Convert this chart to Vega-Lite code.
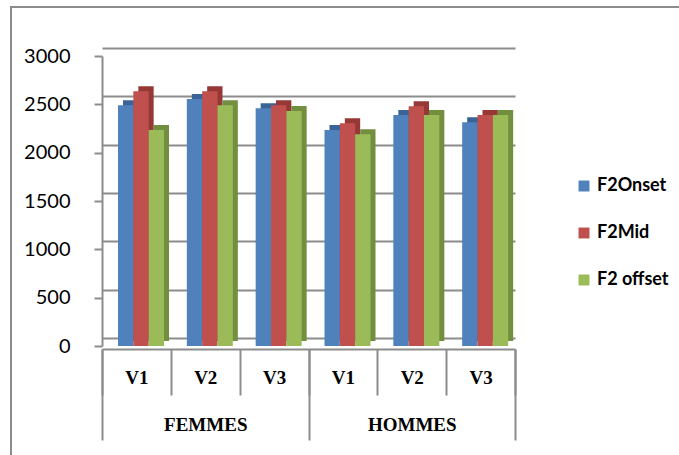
{
  "$schema": "https://vega.github.io/schema/vega-lite/v6.json",
  "width": 669,
  "height": 449,
  "autosize": {"type": "none"},
  "padding": {"left": 11, "top": 7, "right": 0, "bottom": 0},
  "background": "white",
  "config": {
    "view": {"stroke": "#8C8C8C", "strokeWidth": 2},
    "legend": {"labelFont": "Lato", "labelFontSize": 18, "labelFontWeight": "bold", "labelColor": "#000000"}
  },
  "data": {
    "values": [
      {"cat": "FEMMES|V1", "series": "F2Onset", "value": 2490},
      {"cat": "FEMMES|V1", "series": "F2Mid", "value": 2635},
      {"cat": "FEMMES|V1", "series": "F2 offset", "value": 2235},
      {"cat": "FEMMES|V2", "series": "F2Onset", "value": 2555},
      {"cat": "FEMMES|V2", "series": "F2Mid", "value": 2635},
      {"cat": "FEMMES|V2", "series": "F2 offset", "value": 2490},
      {"cat": "FEMMES|V3", "series": "F2Onset", "value": 2460},
      {"cat": "FEMMES|V3", "series": "F2Mid", "value": 2490},
      {"cat": "FEMMES|V3", "series": "F2 offset", "value": 2430},
      {"cat": "HOMMES|V1", "series": "F2Onset", "value": 2235},
      {"cat": "HOMMES|V1", "series": "F2Mid", "value": 2305},
      {"cat": "HOMMES|V1", "series": "F2 offset", "value": 2190},
      {"cat": "HOMMES|V2", "series": "F2Onset", "value": 2390},
      {"cat": "HOMMES|V2", "series": "F2Mid", "value": 2480},
      {"cat": "HOMMES|V2", "series": "F2 offset", "value": 2390},
      {"cat": "HOMMES|V3", "series": "F2Onset", "value": 2315},
      {"cat": "HOMMES|V3", "series": "F2Mid", "value": 2390},
      {"cat": "HOMMES|V3", "series": "F2 offset", "value": 2390}
    ]
  },
  "layer": [
    {
      "mark": {"type": "bar", "opacity": 0},
      "encoding": {
        "x": {"field": "cat", "type": "nominal", "sort": null,
              "scale": {"range": [91, 504], "paddingInner": 0, "paddingOuter": 0},
              "axis": {
                "orient": "bottom", "offset": -107, "title": null, "grid": false,
                "labels": false, "domain": false,
                "tickBand": "extent", "tickSize": 91, "tickColor": "#8C8C8C", "tickWidth": 2,
                "tickOpacity": {"condition": {"test": "datum.value == 'FEMMES|V3' || datum.value == 'HOMMES|V3' || datum.index == -1 || datum.extra", "value": 1}, "value": 0}
              }},
        "y": {"field": "value", "type": "quantitative",
              "scale": {"domain": [0, 3000], "range": [331, 41], "nice": false, "zero": true},
              "axis": {"orient": "left", "offset": -10, "title": null,
                       "values": [0, 500, 1000, 1500, 2000, 2500, 3000],
                       "labels": false, "ticks": false, "domain": false,
                       "grid": true, "gridColor": "#8C8C8C", "gridWidth": 2}}
      }
    },
    {
      "mark": {"type": "bar", "yOffset": -5},
      "encoding": {
        "x": {"field": "cat", "type": "nominal", "sort": null, "axis": null,
              "scale": {"range": [91, 504], "paddingInner": 0, "paddingOuter": 0}},
        "xOffset": {"field": "series", "type": "nominal", "sort": ["F2Onset", "F2Mid", "F2 offset"],
                    "scale": {"range": [21, 67], "paddingInner": 0, "paddingOuter": 0}},
        "y": {"field": "value", "type": "quantitative", "axis": null,
              "scale": {"domain": [0, 3000], "range": [339, 49], "nice": false, "zero": true}},
        "color": {"field": "series", "type": "nominal", "legend": null,
                  "scale": {"domain": ["F2Onset", "F2Mid", "F2 offset"], "range": ["#3A6397", "#953836", "#728E3F"]}}
      }
    },
    {
      "mark": {"type": "bar"},
      "encoding": {
        "x": {"field": "cat", "type": "nominal", "sort": null,
              "scale": {"range": [91, 504], "paddingInner": 0, "paddingOuter": 0},
              "axis": {
                "orient": "bottom", "offset": -107, "title": null, "grid": false,
                "labelAngle": 0, "labelOverlap": false,
                "labelExpr": "split(datum.value, '|')[1] == 'V2' ? [split(datum.value, '|')[1], split(datum.value, '|')[0]] : split(datum.value, '|')[1]",
                "labelFont": "Liberation Serif", "labelFontWeight": "bold", "labelFontSize": 19,
                "labelColor": "#000000", "labelLineHeight": 47, "labelBaseline": "top",
                "labelPadding": -27,
                "tickBand": "extent", "tickSize": 46, "tickColor": "#8C8C8C", "tickWidth": 2,
                "domainColor": "#8C8C8C", "domainWidth": 2
              }},
        "xOffset": {"field": "series", "type": "nominal", "sort": ["F2Onset", "F2Mid", "F2 offset"],
                    "scale": {"range": [16, 62], "paddingInner": 0, "paddingOuter": 0}},
        "y": {"field": "value", "type": "quantitative",
              "scale": {"domain": [0, 3000], "range": [339, 49], "nice": false, "zero": true},
              "axis": {
                "orient": "left", "offset": -91, "title": null, "format": "d",
                "values": [0, 500, 1000, 1500, 2000, 2500, 3000],
                "labelFont": "Lato", "labelFontSize": 20, "labelColor": "#000000",
                "labelPadding": 24, "tickSize": 8, "tickColor": "#8C8C8C", "tickWidth": 2,
                "domainColor": "#8C8C8C", "domainWidth": 2, "grid": false
              }},
        "color": {"field": "series", "type": "nominal",
                  "scale": {"domain": ["F2Onset", "F2Mid", "F2 offset"], "range": ["#4F81BD", "#C0504D", "#9BBB59"]},
                  "legend": {"title": null, "orient": "none", "legendX": 564, "legendY": 170,
                             "symbolType": "square", "symbolSize": 120, "symbolStrokeWidth": 0,
                             "labelOffset": 4, "rowPadding": 29, "padding": 0}}
      }
    }
  ],
  "resolve": {"axis": {"x": "independent", "y": "independent"}, "scale": {"color": "independent", "xOffset": "independent", "y": "independent"}}
}
